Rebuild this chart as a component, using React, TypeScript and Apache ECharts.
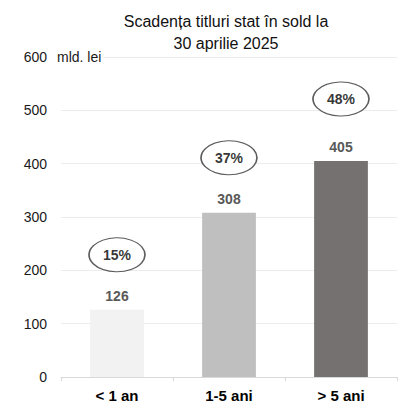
import React, { useEffect, useRef } from "react";
import * as echarts from "echarts";

const categories = ["< 1 an", "1-5 ani", "> 5 ani"];
const values = [126, 308, 405];
const shares = ["15%", "37%", "48%"];
const barColors = ["#f2f2f2", "#bfbfbf", "#767171"];
const yTicks = [0, 100, 200, 300, 400, 500, 600];

export default function App() {
  const ref = useRef<HTMLDivElement>(null);
  useEffect(() => {
    if (!ref.current) return;
    const chart = echarts.init(ref.current, null, { renderer: "svg" });
    const font = "'Liberation Sans', Arial, sans-serif";
    const lifts = [55, 55, 62];
    chart.setOption({
      animation: false,
      backgroundColor: "#ffffff",
      textStyle: { fontFamily: font },
      title: {
        text: "Scadența titluri stat în sold la\n30 aprilie 2025",
        left: 221,
        textAlign: "center",
        top: 5,
        textStyle: { fontFamily: font, fontSize: 16, fontWeight: "normal", color: "#111", lineHeight: 22 },
      },
      grid: { left: 61, right: 2, top: 57, bottom: 43, containLabel: false },
      xAxis: {
        type: "category",
        data: categories,
        axisLine: { lineStyle: { color: "#d9d9d9", width: 1 } },
        axisTick: { show: true, length: 4, lineStyle: { color: "#d9d9d9" } },
        axisLabel: { fontFamily: font, fontSize: 15, fontWeight: "bold", color: "#000", margin: 11 },
      },
      yAxis: {
        type: "value",
        min: yTicks[0],
        max: yTicks[yTicks.length - 1],
        interval: 100,
        axisLine: { show: false },
        axisTick: { show: false },
        splitLine: { lineStyle: { color: "#ececec", width: 1 } },
        axisLabel: { fontFamily: font, fontSize: 14, color: "#1a1a1a", margin: 14 },
      },
      graphic: [
        {
          type: "text",
          x: 56,
          y: 57,
          z: 100,
          style: {
            text: "mld. lei",
            fontFamily: font,
            fontSize: 14,
            fill: "#1a1a1a",
            verticalAlign: "middle",
            align: "left",
            backgroundColor: "#ffffff",
            padding: [2, 2, 2, 1],
          },
        },
      ],
      series: [
        {
          type: "bar",
          barWidth: "48%",
          data: values.map((v, i) => ({ value: v, itemStyle: { color: barColors[i] } })),
          label: {
            show: true,
            position: "top",
            distance: 7,
            fontFamily: font,
            fontSize: 14,
            fontWeight: "bold",
            color: "#595959",
          },
        },
        {
          type: "scatter",
          symbol: "circle",
          symbolSize: [56, 34],
          z: 5,
          data: values.map((v, i) => ({
            value: [i, v],
            symbolOffset: [0, -lifts[i]],
            name: shares[i],
          })),
          itemStyle: { color: "#ffffff", borderColor: "#333333", borderWidth: 1.3 },
          label: {
            show: true,
            position: "inside",
            formatter: (p: any) => shares[p.dataIndex],
            fontFamily: font,
            fontSize: 14,
            fontWeight: "bold",
            color: "#000",
          },
          emphasis: { disabled: true },
        },
      ],
    });
    return () => chart.dispose();
  }, []);
  return (
    <div
      ref={ref}
      style={{ position: "absolute", left: 0, top: 0, width: 399, height: 420 }}
    />
  );
}
